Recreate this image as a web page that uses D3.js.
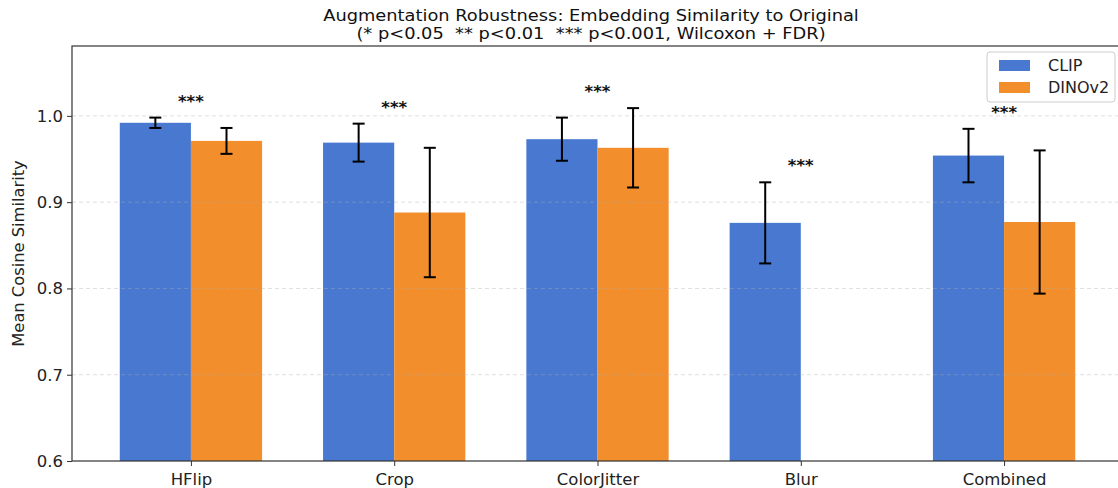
<!DOCTYPE html>
<html><head><meta charset="utf-8">
<script src="https://cdn.jsdelivr.net/npm/d3@7"></script>
<style>body{margin:0;background:#fff}svg{display:block;font-family:"DejaVu Sans",sans-serif}</style>
</head><body><svg id="c" width="1118" height="488"></svg>
<script>
const categories = ["HFlip","Crop","ColorJitter","Blur","Combined"];
const seriesNames = ["CLIP","DINOv2"];
const clipMean = [0.992,0.969,0.973,0.876,0.954];
const clipErr  = [0.006,0.022,0.025,0.047,0.031];
const dinoMean = [0.971,0.888,0.963,null,0.877];
const dinoErr  = [0.015,0.075,0.046,null,0.083];
const sigLabels = ["***","***","***","***","***"];
const yTicks = [0.6,0.7,0.8,0.9,1.0];
const colors = ["#4878cf","#f28e2b"];

const svg = d3.select("#c");
const m = {l:72, r:1123, t:46, b:461};
const n = categories.length;
const x = d3.scaleLinear().domain([-0.585, n-1+0.585]).range([m.l, m.r]);
const y = d3.scaleLinear().domain([0.6, 1.081]).range([m.b, m.t]);
const bw = 0.35;

const data = [];
categories.forEach((c,i)=>{
  [[clipMean,clipErr],[dinoMean,dinoErr]].forEach(([mu,er],s)=>{
    if(mu[i]!=null) data.push({i,s,v:mu[i],e:er[i]});
  });
});

const g = svg.append("g");
g.selectAll("rect.bar").data(data).enter().append("rect")
  .attr("x", d=>x(d.i + (d.s===0 ? -bw : 0)))
  .attr("width", d=>x(bw)-x(0))
  .attr("y", d=>y(d.v))
  .attr("height", d=>y(0.6)-y(d.v))
  .attr("fill", d=>colors[d.s]);

g.selectAll("line.grid").data(yTicks.slice(1)).enter().append("line")
  .attr("x1", m.l).attr("x2", m.r).attr("y1", d=>y(d)).attr("y2", d=>y(d))
  .attr("stroke","#b0b0b0").attr("stroke-opacity",0.4).attr("stroke-width",1)
  .attr("stroke-dasharray","4,3");

const eb = g.selectAll("g.eb").data(data).enter().append("g")
  .attr("stroke","#000").attr("stroke-width",2);
const cx = d=>x(d.i + (d.s===0 ? -bw/2 : bw/2));
eb.append("line").attr("x1",cx).attr("x2",cx).attr("y1",d=>y(d.v+d.e)).attr("y2",d=>y(d.v-d.e));
eb.append("line").attr("x1",d=>cx(d)-6).attr("x2",d=>cx(d)+6).attr("y1",d=>y(d.v+d.e)).attr("y2",d=>y(d.v+d.e));
eb.append("line").attr("x1",d=>cx(d)-6).attr("x2",d=>cx(d)+6).attr("y1",d=>y(d.v-d.e)).attr("y2",d=>y(d.v-d.e));

categories.forEach((c,i)=>{
  const top = d3.max(data.filter(d=>d.i===i), d=>d.v+d.e);
  g.append("text").attr("x", x(i)).attr("y", y(top)-11)
    .attr("text-anchor","middle").attr("font-size",16.5).attr("font-weight","bold")
    .attr("fill","#111").text(sigLabels[i]);
});

const yAxis = d3.axisLeft(y).tickValues(yTicks).tickFormat(d3.format(".1f")).tickSize(5).tickPadding(4);
const ya = svg.append("g").attr("transform",`translate(${m.l},0)`).call(yAxis);
const xAxis = d3.axisBottom(x).tickValues(d3.range(n)).tickFormat(i=>categories[i]).tickSize(5).tickPadding(5);
const xa = svg.append("g").attr("transform",`translate(0,${m.b})`).call(xAxis);
[ya,xa].forEach(a=>{
  a.select(".domain").remove();
  a.selectAll("text").attr("font-size",16.5).attr("fill","#222").attr("font-family","DejaVu Sans");
  a.selectAll("line").attr("stroke","#333");
});
xa.selectAll("text").attr("dy","0.85em");

svg.append("rect").attr("x",m.l).attr("y",m.t).attr("width",m.r-m.l).attr("height",m.b-m.t)
  .attr("fill","none").attr("stroke","#333").attr("stroke-width",1.2);

const titleLines = ["Augmentation Robustness: Embedding Similarity to Original",
                    "(* p<0.05  ** p<0.01  *** p<0.001, Wilcoxon + FDR)"];
titleLines.forEach((t,k)=>{
  svg.append("g").attr("transform",`translate(591,${21+k*17.5}) scale(1.15,1)`)
    .append("text").attr("text-anchor","middle").attr("font-size",15.5).attr("fill","#111")
    .style("white-space","pre").text(t);
});
svg.append("text").attr("transform",`translate(24,${(m.t+m.b)/2}) rotate(-90)`).attr("text-anchor","middle")
  .attr("font-size",16.3).attr("fill","#222").text("Mean Cosine Similarity");

const lg = svg.append("g").attr("transform","translate(987,52)");
lg.append("rect").attr("width",128).attr("height",50).attr("rx",3).attr("fill","#fff").attr("fill-opacity",0.85)
  .attr("stroke","#ccc");
seriesNames.forEach((s,k)=>{
  lg.append("rect").attr("x",12).attr("y",8+k*22).attr("width",31).attr("height",11).attr("fill",colors[k]);
  lg.append("text").attr("x",61).attr("y",19+k*22).attr("font-size",16).attr("fill","#222").text(s);
});
</script></body></html>
